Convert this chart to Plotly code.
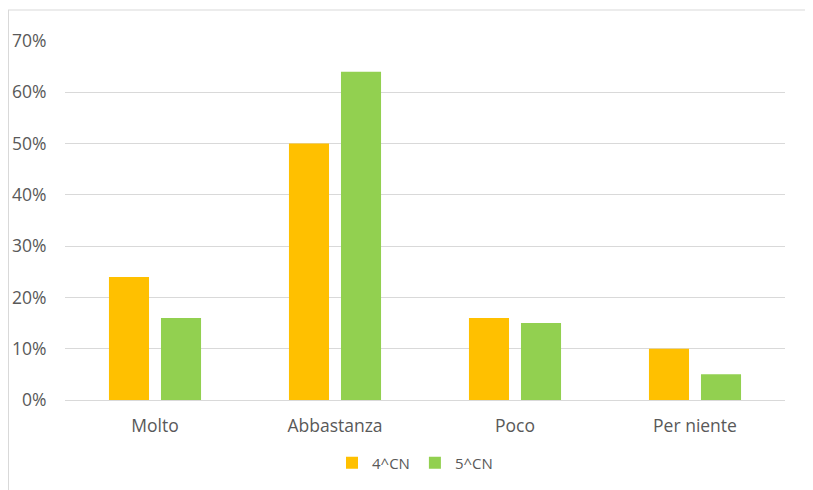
import plotly.graph_objects as go

categories = ["Molto", "Abbastanza", "Poco", "Per niente"]
series_names = ["4^CN", "5^CN"]
values_4cn = [0.24, 0.50, 0.16, 0.10]
values_5cn = [0.16, 0.64, 0.15, 0.05]
colors = ["#FFC000", "#92D050"]

font_family = "Open Sans, Noto Sans, DejaVu Sans, sans-serif"
text_color = "#595959"

fig = go.Figure()
for name, vals, col in zip(series_names, [values_4cn, values_5cn], colors):
    fig.add_trace(go.Bar(x=categories, y=vals, name=name, marker_color=col,
                         marker_line_width=0))

OFF = 8  # page body margin
WIN_W, WIN_H = 813, 490
W, H = WIN_W - OFF, WIN_H - OFF
# plot area in window pixels
PX0, PX1, PY0, PY1 = 65, 785, 41, 400
L, R, T, B = PX0 - OFF, WIN_W - PX1, PY0 - OFF, WIN_H - PY1
pw, ph = PX1 - PX0, PY1 - PY0

def px_x(x):
    return (x - PX0) / pw

def px_y(y):
    return (PY1 - y) / ph

fs = 17.5
fig.update_layout(
    width=W, height=H,
    margin=dict(l=L, r=R, t=T, b=B, autoexpand=False),
    paper_bgcolor="white", plot_bgcolor="white",
    barmode="group", bargap=0.422, bargroupgap=0.23,
    font=dict(family=font_family, size=fs, color=text_color),
    showlegend=True,
    legend=dict(orientation="h", x=px_x(415), xanchor="center", y=px_y(463), yanchor="middle",
                font=dict(size=15, color=text_color), traceorder="normal"),
    xaxis=dict(showgrid=False, showline=True, linecolor="#d9d9d9", linewidth=1,
               automargin=False,
               ticks="outside", ticklen=10, tickcolor="rgba(0,0,0,0)",
               tickfont=dict(size=fs, color=text_color)),
    yaxis=dict(range=[0, 0.70], dtick=0.10, tickformat=".0%", showgrid=True,
               automargin=False,
               gridcolor="#d9d9d9", gridwidth=1, zeroline=False, showline=False,
               ticks="outside", ticklen=14, tickcolor="rgba(0,0,0,0)",
               tickfont=dict(size=fs, color=text_color)),
    shapes=[
        dict(type="line", xref="paper", yref="paper", x0=px_x(8), x1=px_x(813),
             y0=px_y(10), y1=px_y(10), line=dict(color="#d9d9d9", width=1)),
        dict(type="line", xref="paper", yref="paper", x0=px_x(8.5), x1=px_x(8.5),
             y0=px_y(10), y1=px_y(490), line=dict(color="#d9d9d9", width=1)),
    ],
)

fig.write_html("out.html")
